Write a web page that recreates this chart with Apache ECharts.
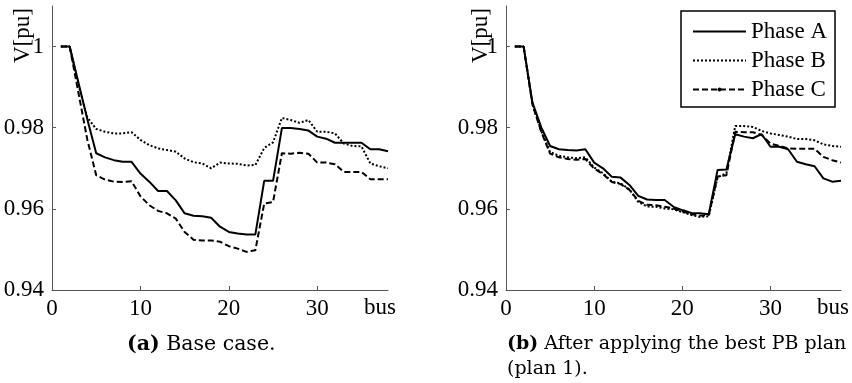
<!DOCTYPE html>
<html>
<head>
<meta charset="utf-8">
<script src="https://cdn.jsdelivr.net/npm/echarts@6/dist/echarts.min.js"></script>
<style>
html, body { margin: 0; padding: 0; background: #fff; }
#main { width: 852px; height: 383px; }
</style>
</head>
<body>
<div id="main"></div>
<script>
// bus numbers 1..38
var buses = [1,2,3,4,5,6,7,8,9,10,11,12,13,14,15,16,17,18,19,20,21,22,23,24,25,26,27,28,29,30,31,32,33,34,35,36,37,38];

// (a) base case
var baseA = [1.0,1.0,0.991,0.982,0.9737,0.9727,0.972,0.9716,0.9716,0.9687,0.9667,0.9644,0.9644,0.9621,0.9589,0.9583,0.9582,0.9578,0.9556,0.9543,0.9539,0.9537,0.9537,0.9669,0.9669,0.9799,0.9799,0.9797,0.9793,0.9778,0.9773,0.9763,0.9763,0.9763,0.9763,0.9747,0.9747,0.9742];
var baseB = [1.0,1.0,0.9905,0.9825,0.9797,0.979,0.9786,0.9786,0.9789,0.977,0.9757,0.9749,0.9745,0.9741,0.9724,0.9715,0.9712,0.970,0.9714,0.9712,0.9711,0.9707,0.9708,0.9750,0.9764,0.9824,0.9819,0.9812,0.9819,0.979,0.979,0.9786,0.9761,0.9755,0.9754,0.9712,0.9705,0.970];
var baseC = [1.0,1.0,0.9885,0.977,0.9683,0.9672,0.9667,0.9666,0.9668,0.9631,0.9609,0.9595,0.9589,0.9576,0.9543,0.9524,0.9522,0.9522,0.9519,0.9508,0.9502,0.9494,0.9498,0.9613,0.9617,0.9737,0.9736,0.9738,0.9736,0.9714,0.9714,0.971,0.9691,0.9691,0.9691,0.9673,0.9673,0.9673];

// (b) after plan 1
var planA = [1.0,1.0,0.9862,0.9801,0.9755,0.9747,0.9745,0.9744,0.9747,0.9714,0.970,0.9679,0.9677,0.9659,0.9632,0.9623,0.9622,0.9622,0.9605,0.9597,0.959,0.9589,0.9587,0.9696,0.9697,0.9784,0.9778,0.9774,0.9784,0.9753,0.9753,0.9747,0.9716,0.971,0.9705,0.9675,0.9667,0.9669];
var planB = [1.0,1.0,0.9858,0.9792,0.974,0.9731,0.9727,0.9725,0.9727,0.9702,0.9688,0.9667,0.9663,0.9648,0.9617,0.9606,0.9605,0.9601,0.9599,0.9592,0.9585,0.958,0.9582,0.9678,0.9688,0.9804,0.9804,0.9802,0.9792,0.9786,0.9782,0.9778,0.9772,0.9772,0.9769,0.9759,0.9755,0.9753];
var planC = [1.0,1.0,0.9857,0.979,0.9736,0.9727,0.9723,0.9721,0.9723,0.9699,0.9686,0.9666,0.9661,0.9647,0.962,0.961,0.9609,0.9605,0.9601,0.9594,0.9587,0.9583,0.9585,0.968,0.9683,0.979,0.9789,0.9789,0.9782,0.9761,0.9755,0.9749,0.9748,0.9748,0.9748,0.9728,0.972,0.9714];

var phaseNames = ['Phase A', 'Phase B', 'Phase C'];
var yTicks = { min: 0.94, max: 1.01, interval: 0.02 };
var xTicks = { min: 0, max: 38, interval: 10 };

var chart = echarts.init(document.getElementById('main'));

var serifFont = '"Liberation Serif", "Times New Roman", Times, serif';
var capFont = '"DejaVu Serif", serif';

function pairs(ys) {
    var d = [];
    for (var i = 0; i < buses.length; i++) {
        d.push([buses[i], ys[i]]);
    }
    return d;
}

// line look for each phase
var styles = {
    'Phase A': { type: 'solid', symbol: 'none' },
    'Phase B': { type: [2, 2], symbol: 'none' },
    'Phase C': { type: [6, 3], symbol: 'circle' }
};

function makeSeries(name, ys, idx) {
    return {
        name: name,
        type: 'line',
        xAxisIndex: idx,
        yAxisIndex: idx,
        data: pairs(ys),
        symbol: styles[name].symbol,
        symbolSize: 5,
        showSymbol: false,
        silent: true,
        animation: false,
        itemStyle: { color: '#000' },
        lineStyle: { color: '#000', width: 2, type: styles[name].type }
    };
}

function xAxisOf(idx) {
    return {
        type: 'value',
        gridIndex: idx,
        min: xTicks.min,
        max: xTicks.max,
        interval: xTicks.interval,
        name: 'bus',
        nameLocation: 'end',
        nameGap: -8,
        nameTextStyle: {
            fontFamily: serifFont, fontSize: 23, color: '#000',
            align: 'center', verticalAlign: 'top', padding: [6, 0, 0, 0]
        },
        axisLine: { show: true, lineStyle: { color: '#555', width: 1 } },
        axisTick: { show: true, inside: true, length: 4, lineStyle: { color: '#555' } },
        axisLabel: {
            showMaxLabel: false, margin: 7,
            fontFamily: serifFont, fontSize: 23, color: '#000'
        },
        splitLine: { show: false }
    };
}

function yAxisOf(idx) {
    return {
        type: 'value',
        gridIndex: idx,
        min: yTicks.min,
        max: yTicks.max,
        interval: yTicks.interval,
        axisLine: { show: true, lineStyle: { color: '#555', width: 1 } },
        axisTick: { show: true, inside: true, length: 4, lineStyle: { color: '#555' } },
        axisLabel: {
            showMaxLabel: false, margin: 8,
            fontFamily: serifFont, fontSize: 23, color: '#000'
        },
        splitLine: { show: false }
    };
}

// rotated "V[pu]" label next to each y axis
function yName(x) {
    return {
        type: 'text',
        x: x, y: 63,
        rotation: Math.PI / 2,
        silent: true,
        style: {
            text: 'V[pu]',
            fontFamily: serifFont, fontSize: 23, fill: '#000',
            align: 'left', verticalAlign: 'bottom'
        }
    };
}

var option = {
    backgroundColor: '#fff',
    animation: false,
    title: [
        {
            text: '{b|(a)} Base case.',
            left: 122, top: 329,
            textStyle: {
                fontFamily: capFont, fontSize: 20.5, fontWeight: 'normal', color: '#000',
                rich: { b: { fontFamily: capFont, fontSize: 20.5, fontWeight: 'bold', color: '#000' } }
            }
        },
        {
            text: '{b|(b)} After applying the best PB plan\n(plan 1).',
            left: 502, top: 327,
            textStyle: {
                fontFamily: capFont, fontSize: 19, fontWeight: 'normal', color: '#000', lineHeight: 25,
                rich: { b: { fontFamily: capFont, fontSize: 19, fontWeight: 'bold', color: '#000', lineHeight: 25 } }
            }
        }
    ],
    graphic: [yName(34), yName(492)],
    legend: {
        data: [
            { name: phaseNames[0], itemStyle: { opacity: 0 } },
            { name: phaseNames[1], itemStyle: { opacity: 0 } },
            { name: phaseNames[2] }
        ],
        orient: 'vertical',
        left: 681, top: 11,
        padding: [9, 8, 6, 11],
        itemGap: 6,
        itemWidth: 53,
        itemHeight: 5,
        backgroundColor: '#fff',
        borderColor: '#000',
        borderWidth: 1.5,
        borderRadius: 0,
        selectedMode: false,
        textStyle: { fontFamily: serifFont, fontSize: 23, color: '#000' }
    },
    grid: [
        { left: 52, top: 6, width: 336, height: 284 },
        { left: 506, top: 6, width: 336, height: 284 }
    ],
    xAxis: [xAxisOf(0), xAxisOf(1)],
    yAxis: [yAxisOf(0), yAxisOf(1)],
    series: [
        makeSeries('Phase A', baseA, 0),
        makeSeries('Phase B', baseB, 0),
        makeSeries('Phase C', baseC, 0),
        makeSeries('Phase A', planA, 1),
        makeSeries('Phase B', planB, 1),
        makeSeries('Phase C', planC, 1)
    ]
};

chart.setOption(option);
</script>
</body>
</html>
